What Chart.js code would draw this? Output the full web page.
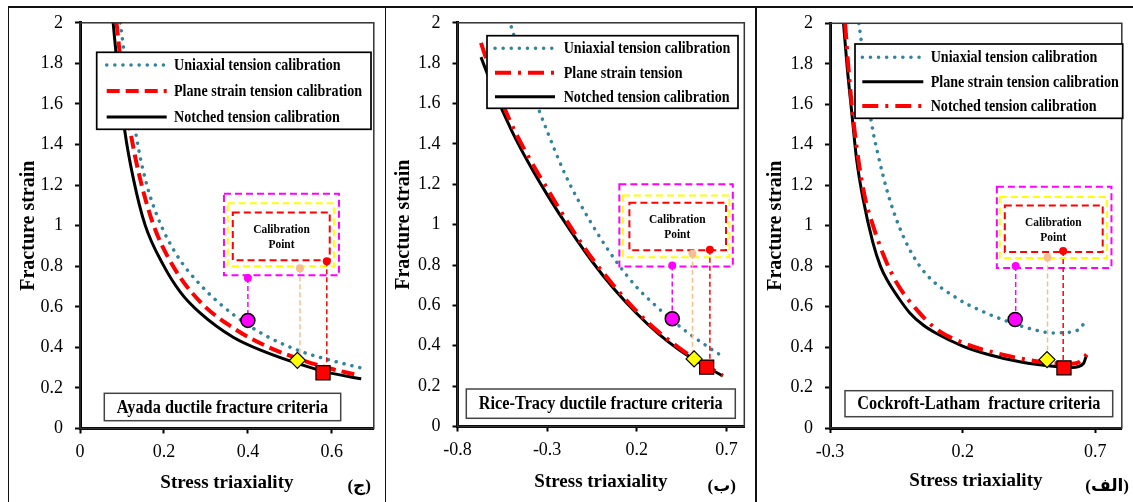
<!DOCTYPE html>
<html>
<head>
<meta charset="utf-8">
<script src="https://cdn.jsdelivr.net/npm/chart.js@4.4.1/dist/chart.umd.min.js"></script>
<style>
body{margin:0;background:#fff;width:1133px;height:502px;overflow:hidden;position:relative}
.panel{position:absolute;top:0;height:502px}
.rule{position:absolute;background:#111;z-index:2}
.tag{position:absolute;font:bold 17px 'Liberation Serif','DejaVu Sans',serif;color:#000;direction:rtl;z-index:2;white-space:nowrap}
</style>
</head>
<body>
<div class="panel" style="left:0;width:385px"><canvas id="ayadaChart"></canvas></div>
<div class="panel" style="left:385px;width:371px"><canvas id="riceChart"></canvas></div>
<div class="panel" style="left:756px;width:377px"><canvas id="clChart"></canvas></div>
<div class="rule" style="left:8px;top:6px;width:1125px;height:1.5px"></div>
<div class="rule" style="left:7.5px;top:6px;width:1.5px;height:496px"></div>
<div class="rule" style="left:384.5px;top:6px;width:1.5px;height:496px"></div>
<div class="rule" style="left:755px;top:6px;width:1.5px;height:496px"></div>
<div class="tag" style="right:762px;top:475px">(ج)</div>
<div class="tag" style="right:397px;top:475px">(ب)</div>
<div class="tag" style="right:4px;top:475px">(الف)</div>
<script>
//axis ticks
const strainTicks = [0, 0.2, 0.4, 0.6, 0.8, 1, 1.2, 1.4, 1.6, 1.8, 2];
const ayadaXTicks = [0, 0.2, 0.4, 0.6];
const riceXTicks = [-0.8, -0.3, 0.2, 0.7];
const clXTicks = [-0.3, 0.2, 0.7];

//ayada (ج)
const ayadaUniX = [0.096, 0.115, 0.135, 0.155, 0.186, 0.23, 0.286, 0.365, 0.444, 0.524, 0.603, 0.667];
const ayadaUniY = [2.0, 1.70, 1.43, 1.233, 1.037, 0.857, 0.71, 0.562, 0.456, 0.382, 0.333, 0.30];
const ayadaPlaneX = [0.087, 0.105, 0.123, 0.143, 0.175, 0.222, 0.286, 0.365, 0.444, 0.524, 0.603, 0.655];
const ayadaPlaneY = [2.0, 1.66, 1.43, 1.233, 1.004, 0.80, 0.625, 0.496, 0.406, 0.341, 0.292, 0.267];
const ayadaNotchX = [0.079, 0.09, 0.107, 0.127, 0.155, 0.198, 0.24, 0.286, 0.365, 0.444, 0.516, 0.587, 0.67];
const ayadaNotchY = [2.0, 1.76, 1.463, 1.233, 1.004, 0.808, 0.67, 0.57, 0.45, 0.375, 0.322, 0.278, 0.245];
const ayadaCalibX = [0.4, 0.518, 0.579];
const ayadaCalibY = [0.533, 0.336, 0.275];
const ayadaTagX = [0.4, 0.524, 0.588];
const ayadaTagY = [0.742, 0.79, 0.824];

//rice-tracy (ب)
const riceUniX = [-0.5, -0.4, -0.294, -0.2, -0.126, 0.0, 0.1, 0.2, 0.3, 0.4, 0.5, 0.6, 0.67];
const riceUniY = [1.98, 1.70, 1.45, 1.25, 1.12, 0.93, 0.80, 0.69, 0.603, 0.525, 0.455, 0.393, 0.352];
const ricePlaneX = [-0.669, -0.6, -0.5, -0.4, -0.294, -0.17, -0.051, 0.07, 0.2, 0.32, 0.436, 0.56, 0.68];
const ricePlaneY = [1.90, 1.72, 1.50, 1.33, 1.17, 0.99, 0.835, 0.70, 0.57, 0.47, 0.39, 0.315, 0.252];
const riceNotchX = [-0.669, -0.6, -0.5, -0.4, -0.294, -0.17, -0.051, 0.07, 0.2, 0.32, 0.436, 0.56, 0.68];
const riceNotchY = [1.83, 1.67, 1.47, 1.30, 1.14, 0.97, 0.82, 0.685, 0.56, 0.46, 0.38, 0.31, 0.25];
const riceCalibX = [0.398, 0.52, 0.59];
const riceCalibY = [0.534, 0.335, 0.294];
const riceTagX = [0.398, 0.511, 0.608];
const riceTagY = [0.798, 0.856, 0.876];

//cockroft-latham (الف)
const clUniX = [-0.191, -0.181, -0.145, -0.12, -0.078, -0.023, 0.05, 0.18, 0.27, 0.356, 0.466, 0.539, 0.612, 0.645, 0.667];
const clUniY = [2.0, 1.90, 1.52, 1.357, 1.142, 0.945, 0.78, 0.64, 0.579, 0.533, 0.487, 0.47, 0.475, 0.495, 0.541];
const clPlaneX = [-0.249, -0.235, -0.218, -0.2, -0.175, -0.139, -0.11, -0.084, -0.04, 0.0, 0.05, 0.1, 0.2, 0.3, 0.42, 0.54, 0.612, 0.655, 0.667];
const clPlaneY = [2.0, 1.78, 1.56, 1.33, 1.13, 0.92, 0.80, 0.73, 0.64, 0.57, 0.51, 0.468, 0.405, 0.362, 0.326, 0.305, 0.299, 0.318, 0.36];
const clNotchX = [-0.243, -0.228, -0.21, -0.19, -0.165, -0.145, -0.1, -0.047, 0.03, 0.1, 0.209, 0.295, 0.454, 0.55, 0.612, 0.645, 0.667];
const clNotchY = [2.0, 1.74, 1.50, 1.30, 1.12, 1.03, 0.86, 0.714, 0.58, 0.49, 0.417, 0.381, 0.335, 0.32, 0.318, 0.33, 0.364];
const clCalibX = [0.398, 0.518, 0.582];
const clCalibY = [0.536, 0.338, 0.297];
const clTagX = [0.40, 0.52, 0.579];
const clTagY = [0.80, 0.843, 0.875];

const BLUE = '#31849B', RED = '#FF0000', MAGENTA = '#FF00FF', PEACH = '#F9BE8F', YELLOW = '#FFFF00';
const SERIF = "'Liberation Serif', 'Times New Roman', serif";
const H = 502;
const SQUEEZE = 0.88; // the figure text is a bit narrow

const dotted = {borderColor: BLUE, borderWidth: 3.5, borderDash: [0.1, 8], borderCapStyle: 'round'};
const dashed = {borderColor: RED, borderWidth: 4, borderDash: [13, 6]};
const dashDot = {borderColor: RED, borderWidth: 4, borderDash: [16, 7, 3, 7]};
const solid = {borderColor: '#000', borderWidth: 3};

function pts(xs, ys){ return xs.map((x, i) => ({x: x, y: ys[i]})); }

function curve(label, xs, ys, style, order){
  return Object.assign({label: label, data: pts(xs, ys), showLine: true, pointRadius: 0,
    cubicInterpolationMode: 'monotone', inLegend: true, order: order}, style);
}

function calibSets(cx, cy, tx, ty){
  const sets = [
    {data: pts([cx[0]], [cy[0]]), pointStyle: 'circle', pointRadius: 7, backgroundColor: MAGENTA, borderColor: '#000', borderWidth: 1.5, order: 0},
    {data: pts([cx[1]], [cy[1]]), pointStyle: 'rectRot', pointRadius: 8, backgroundColor: YELLOW, borderColor: '#000', borderWidth: 1.2, order: 0},
    {data: pts([cx[2]], [cy[2]]), pointStyle: 'rect', pointRadius: 10, backgroundColor: RED, borderColor: '#000', borderWidth: 1.2, order: 0}
  ];
  [MAGENTA, PEACH, RED].forEach((c, i) => {
    sets.push({data: pts([tx[i], tx[i]], [ty[i], cy[i]]), showLine: true, borderColor: c, borderWidth: 1.5,
      borderDash: [5, 3], pointRadius: [4, 0], backgroundColor: c, pointBorderWidth: 0, order: 1});
  });
  return sets;
}

function narrowText(ctx, text, x, y){
  ctx.save();
  ctx.translate(x, y);
  ctx.scale(SQUEEZE, 1);
  ctx.fillText(text, 0, 0);
  ctx.restore();
}

const panelDecor = {
  id: 'panelDecor',
  beforeDatasetsDraw(chart, args, o){
    const {ctx, scales: {x, y}} = chart;
    ctx.save();
    ctx.setLineDash([7, 4]);
    ctx.lineWidth = 2;
    o.calib.boxes.forEach(b => {
      const x1 = x.getPixelForValue(b.x[0]), x2 = x.getPixelForValue(b.x[1]);
      const y1 = y.getPixelForValue(b.y[1]), y2 = y.getPixelForValue(b.y[0]);
      ctx.strokeStyle = b.c;
      ctx.strokeRect(x1, y1, x2 - x1, y2 - y1);
    });
    ctx.setLineDash([]);
    ctx.fillStyle = '#000';
    ctx.font = 'bold 13px ' + SERIF;
    ctx.textAlign = 'center';
    ctx.textBaseline = 'middle';
    const cx = x.getPixelForValue(o.calib.text[0]), cy = y.getPixelForValue(o.calib.text[1]);
    narrowText(ctx, 'Calibration', cx, cy - 7.5);
    narrowText(ctx, 'Point', cx, cy + 7.5);
    ctx.restore();
  },
  afterDatasetsDraw(chart, args, o){
    const {ctx, chartArea: a} = chart;
    ctx.save();
    //plot frame
    ctx.strokeStyle = '#333';
    ctx.lineWidth = 1.5;
    ctx.strokeRect(a.left, a.top, a.right - a.left, a.bottom - a.top);
    //legend
    const L = o.legend;
    ctx.fillStyle = '#fff';
    ctx.fillRect(L.box[0], L.box[1], L.box[2] - L.box[0], L.box[3] - L.box[1]);
    ctx.strokeStyle = '#000';
    ctx.lineWidth = 1.7;
    ctx.strokeRect(L.box[0], L.box[1], L.box[2] - L.box[0], L.box[3] - L.box[1]);
    ctx.font = 'bold 16px ' + SERIF;
    ctx.textBaseline = 'middle';
    ctx.textAlign = 'left';
    chart.data.datasets.filter(d => d.inLegend).forEach((d, i) => {
      const yy = L.rows[i];
      ctx.strokeStyle = d.borderColor;
      ctx.lineWidth = d.borderWidth;
      ctx.setLineDash(d.borderDash || []);
      ctx.lineCap = d.borderCapStyle || 'butt';
      ctx.beginPath();
      ctx.moveTo(L.sample[0], yy);
      ctx.lineTo(L.sample[1], yy);
      ctx.stroke();
      ctx.setLineDash([]);
      ctx.fillStyle = '#000';
      narrowText(ctx, d.label, L.textX, yy + 1);
    });
    //criteria label
    const C = o.criteria;
    ctx.lineCap = 'butt';
    ctx.fillStyle = '#fff';
    ctx.fillRect(C.box[0], C.box[1], C.box[2] - C.box[0], C.box[3] - C.box[1]);
    ctx.strokeStyle = '#444';
    ctx.lineWidth = 1.5;
    ctx.strokeRect(C.box[0], C.box[1], C.box[2] - C.box[0], C.box[3] - C.box[1]);
    ctx.fillStyle = '#000';
    ctx.font = 'bold 18.5px ' + SERIF;
    ctx.textAlign = 'center';
    narrowText(ctx, C.text, (C.box[0] + C.box[2]) / 2, (C.box[1] + C.box[3]) / 2 + 1);
    ctx.restore();
  }
};

function makeChart(id, p){
  new Chart(document.getElementById(id), {
    type: 'scatter',
    data: {datasets: calibSets(p.calibX, p.calibY, p.tagX, p.tagY).concat(p.curves)},
    options: {
      responsive: true, maintainAspectRatio: false, animation: false, events: [],
      layout: {padding: {top: p.area.top, right: p.area.right, left: 0, bottom: 0}},
      plugins: {legend: {display: false}, tooltip: {enabled: false},
        panelDecor: {legend: p.legend, criteria: p.criteria, calib: p.calib}},
      scales: {
        x: {
          type: 'linear', min: p.xMin, max: p.xMax,
          afterBuildTicks: s => { s.ticks = p.xTicks.map(v => ({value: v})); },
          afterFit: s => { s.height = H - p.area.bottom; },
          ticks: {font: {family: SERIF, size: 18}, color: '#000', padding: 8, maxRotation: 0, callback: v => String(v)},
          grid: {drawOnChartArea: false, tickLength: 5, tickWidth: 2, tickColor: '#000'},
          border: {color: '#000', width: 3},
          title: {display: true, text: 'Stress triaxiality', color: '#000',
            font: {family: SERIF, size: 19, weight: 'bold'}, padding: {top: 0, bottom: p.xTitlePad}}
        },
        y: {
          type: 'linear', min: 0, max: 2,
          afterBuildTicks: s => { s.ticks = strainTicks.map(v => ({value: v})); },
          afterFit: s => { s.width = p.area.left; },
          ticks: {font: {family: SERIF, size: 18}, color: '#000', padding: 12, callback: v => String(v)},
          grid: {drawOnChartArea: false, tickLength: 5, tickWidth: 2, tickColor: '#000'},
          border: {color: '#000', width: 3},
          title: {display: true, text: 'Fracture strain', color: '#000',
            font: {family: SERIF, size: 20, weight: 'bold'}, padding: {top: p.yTitlePad, bottom: 0}}
        }
      }
    },
    plugins: [panelDecor]
  });
}

makeChart('ayadaChart', {
  area: {left: 80, right: 10.5, top: 21, bottom: 428.5},
  xMin: 0, xMax: 0.7, xTicks: ayadaXTicks, xTitlePad: 7.6, yTitlePad: 17,
  calibX: ayadaCalibX, calibY: ayadaCalibY, tagX: ayadaTagX, tagY: ayadaTagY,
  curves: [
    curve('Uniaxial tension calibration', ayadaUniX, ayadaUniY, dotted, 3),
    curve('Plane strain tension calibration', ayadaPlaneX, ayadaPlaneY, dashed, 4),
    curve('Notched tension calibration', ayadaNotchX, ayadaNotchY, solid, 5)
  ],
  legend: {box: [96.7, 52.3, 371, 129.3], rows: [65, 91, 117], sample: [106.7, 166.7], textX: 174},
  criteria: {box: [104.3, 393.3, 340.7, 420.7], text: 'Ayada ductile fracture criteria'},
  calib: {boxes: [
    {c: MAGENTA, x: [0.343, 0.617], y: [0.755, 1.157]},
    {c: YELLOW, x: [0.352, 0.605], y: [0.80, 1.11]},
    {c: RED, x: [0.364, 0.595], y: [0.829, 1.065]}
  ], text: [0.48, 0.942]}
});

makeChart('riceChart', {
  area: {left: 72.5, right: 11.7, top: 22.7, bottom: 426.5},
  xMin: -0.8, xMax: 0.8, xTicks: riceXTicks, xTitlePad: 8.9, yTitlePad: 7,
  calibX: riceCalibX, calibY: riceCalibY, tagX: riceTagX, tagY: riceTagY,
  curves: [
    curve('Uniaxial tension calibration', riceUniX, riceUniY, dotted, 3),
    curve('Plane strain tension', ricePlaneX, ricePlaneY, dashDot, 4),
    curve('Notched tension calibration', riceNotchX, riceNotchY, solid, 5)
  ],
  legend: {box: [102, 35.7, 353, 108.3], rows: [48.3, 72.7, 96.7], sample: [110, 170], textX: 178.7},
  criteria: {box: [81.3, 389, 350.3, 418.3], text: 'Rice-Tracy ductile fracture criteria'},
  calib: {boxes: [
    {c: MAGENTA, x: [0.103, 0.736], y: [0.793, 1.2]},
    {c: YELLOW, x: [0.123, 0.717], y: [0.839, 1.145]},
    {c: RED, x: [0.159, 0.698], y: [0.873, 1.109]}
  ], text: [0.426, 0.987]}
});

makeChart('clChart', {
  area: {left: 74, right: 2, top: 23.3, bottom: 428},
  xMin: -0.3, xMax: 0.8, xTicks: clXTicks, xTitlePad: 9.8, yTitlePad: 7.7,
  calibX: clCalibX, calibY: clCalibY, tagX: clTagX, tagY: clTagY,
  curves: [
    curve('Uniaxial tension calibration', clUniX, clUniY, dotted, 3),
    curve('Plane strain tension calibration', clPlaneX, clPlaneY, solid, 5),
    curve('Notched tension calibration', clNotchX, clNotchY, dashDot, 4)
  ],
  legend: {box: [99, 44, 366.7, 118.3], rows: [57.3, 81.7, 106], sample: [106.3, 167.3], textX: 174.7},
  criteria: {box: [89, 390.7, 356.7, 416.7], text: 'Cockroft-Latham  fracture criteria'},
  calib: {boxes: [
    {c: MAGENTA, x: [0.329, 0.761], y: [0.791, 1.192]},
    {c: YELLOW, x: [0.34, 0.744], y: [0.84, 1.142]},
    {c: RED, x: [0.359, 0.728], y: [0.87, 1.10]}
  ], text: [0.542, 0.98]}
});
</script>
</body>
</html>
